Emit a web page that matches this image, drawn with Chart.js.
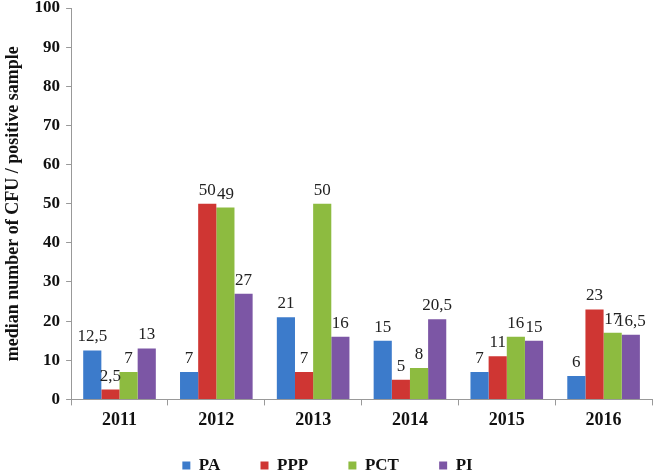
<!DOCTYPE html>
<html>
<head>
<meta charset="utf-8">
<script src="https://cdn.jsdelivr.net/npm/chart.js@4/dist/chart.umd.min.js"></script>
<style>
  html, body { margin: 0; padding: 0; background: #fff; }
  #wrap { width: 654px; height: 475px; }
</style>
</head>
<body>
<div id="wrap"><canvas id="cfuChart"></canvas></div>
<script>
const years = ['2011', '2012', '2013', '2014', '2015', '2016'];
const paValues = [12.5, 7, 21, 15, 7, 6];
const pppValues = [2.5, 50, 7, 5, 11, 23];
const pctValues = [7, 49, 50, 8, 16, 17];
const piValues = [13, 27, 16, 20.5, 15, 16.5];
const yTicks = [0, 10, 20, 30, 40, 50, 60, 70, 80, 90, 100];

const serif = '"Liberation Serif", "Times New Roman", serif';

// values over each bar, with a decimal comma like the original
const valueLabels = {
    id: 'valueLabels',
    afterDatasetsDraw(chart) {
        const ctx = chart.ctx;
        ctx.save();
        ctx.font = '17px ' + serif;
        ctx.fillStyle = '#222';
        ctx.textAlign = 'center';
        ctx.textBaseline = 'bottom';
        chart.data.datasets.forEach((ds, i) => {
            chart.getDatasetMeta(i).data.forEach((bar, j) => {
                const txt = String(ds.data[j]).replace('.', ',');
                ctx.fillText(txt, bar.x, bar.y - 5);
            });
        });
        ctx.restore();
    }
};

function makeSet(label, data, color) {
    return {
        label: label,
        data: data,
        backgroundColor: color,
        borderWidth: 0,
        categoryPercentage: 0.75,
        barPercentage: 1.0
    };
}

new Chart(document.getElementById('cfuChart'), {
    type: 'bar',
    data: {
        labels: years,
        datasets: [
            makeSet('PA', paValues, '#3c7bcb'),
            makeSet('PPP', pppValues, '#cf3633'),
            makeSet('PCT', pctValues, '#8dbb40'),
            makeSet('PI', piValues, '#7c56a5')
        ]
    },
    options: {
        responsive: true,
        maintainAspectRatio: false,
        animation: false,
        layout: { padding: { top: 8, right: 2, left: 3, bottom: -9 } },
        plugins: {
            legend: {
                position: 'bottom',
                labels: {
                    boxWidth: 8,
                    boxHeight: 8,
                    padding: 2,
                    color: '#111',
                    font: { family: serif, size: 17, weight: 'bold' },
                    generateLabels(chart) {
                        const items = Chart.defaults.plugins.legend.labels.generateLabels(chart);
                        // wide gaps between entries without a tall legend box
                        items.forEach((it, i) => {
                            if (i < items.length - 1) it.text = it.text + '\u00a0'.repeat(9);
                        });
                        return items;
                    }
                }
            },
            tooltip: { enabled: false }
        },
        scales: {
            x: {
                grid: { display: true, drawOnChartArea: false, offset: true, color: '#999', tickLength: 6 },
                border: { color: '#999' },
                ticks: { color: '#111', padding: 4, font: { family: serif, size: 18, weight: 'bold' } },
                afterFit(axis) { axis.height += 20; }
            },
            y: {
                min: 0,
                max: 100,
                afterBuildTicks(axis) {
                    axis.ticks = yTicks.map(v => ({ value: v }));
                },
                afterFit(axis) { axis.paddingTop = 0; },
                grid: { display: true, drawOnChartArea: false, color: '#999', tickLength: 5 },
                border: { color: '#999' },
                ticks: { color: '#111', padding: 6, font: { family: serif, size: 17, weight: 'bold' } },
                title: {
                    display: true,
                    text: 'median number of CFU / positive sample',
                    color: '#111',
                    padding: { top: 0, bottom: 4 },
                    font: { family: serif, size: 18, weight: 'bold' }
                }
            }
        }
    },
    plugins: [valueLabels]
});
</script>
</body>
</html>
